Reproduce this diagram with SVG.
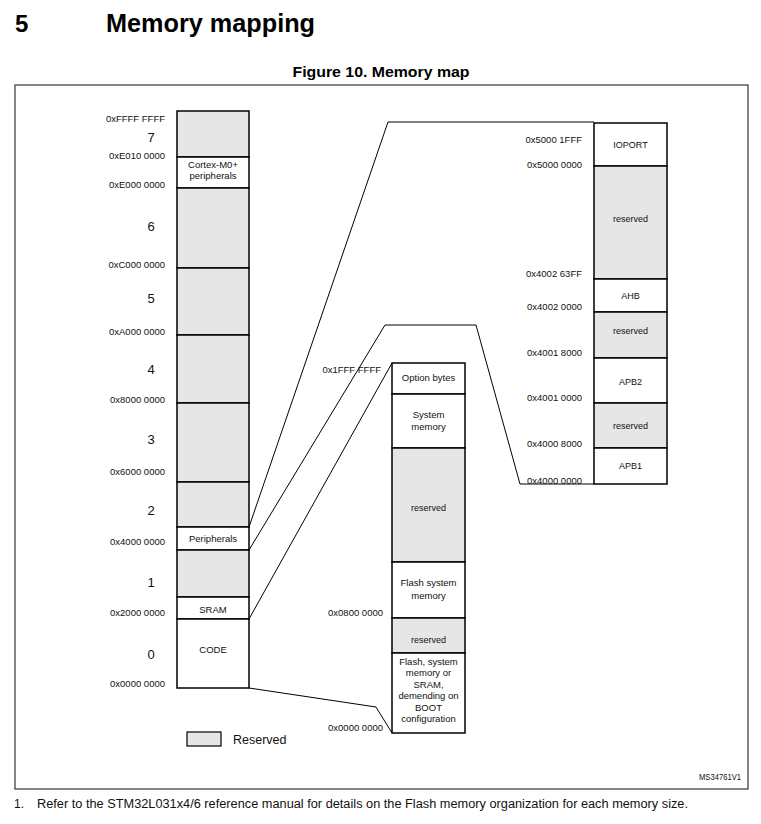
<svg xmlns="http://www.w3.org/2000/svg" width="761" height="824" viewBox="0 0 761 824">
<style>
text{font-family:"Liberation Sans",Arial,sans-serif;fill:#111}
.cell{stroke:#000;stroke-width:1.5;fill:#fff}
.res{stroke:#000;stroke-width:1.5;fill:#e6e6e6}
.lbl{font-size:9.5px;text-anchor:middle}
.rl{font-size:9px;text-anchor:middle}
.addr{font-size:9.5px;text-anchor:end}
.dig{font-size:13px;text-anchor:middle}
.conn{fill:none;stroke:#000;stroke-width:1}
</style>
<rect width="761" height="824" fill="#fff"/>
<g id="heading">
<text x="15" y="32" style="font-size:24px;font-weight:bold;fill:#000">5</text>
<text x="106" y="32" style="font-size:25px;font-weight:bold;fill:#000" textLength="209" lengthAdjust="spacingAndGlyphs">Memory mapping</text>
<text x="381" y="77" style="font-size:15px;font-weight:bold;fill:#000;text-anchor:middle" textLength="177" lengthAdjust="spacingAndGlyphs">Figure 10. Memory map</text>
</g>
<rect id="frame" x="15" y="85" width="733" height="704" fill="none" stroke="#444" stroke-width="1.3"/>
<g id="connectors">
<polyline class="conn" points="249,527 388,122 594,122"/>
<polyline class="conn" points="249,550 385,325 476,325 520,484 594,484"/>
<polyline class="conn" points="249,619 392,363"/>
<polyline class="conn" points="249,688 376,707 392,733"/>
</g>
<g id="left-column">
<g id="l-7"><rect class="res" x="177" y="111" width="72" height="46"/></g>
<g id="l-cortex"><rect class="cell" x="177" y="157" width="72" height="31"/>
<text class="lbl" x="213" y="167.7">Cortex-M0+</text><text class="lbl" x="213" y="179.4">peripherals</text></g>
<g id="l-6"><rect class="res" x="177" y="188" width="72" height="80"/></g>
<g id="l-5"><rect class="res" x="177" y="268" width="72" height="67"/></g>
<g id="l-4"><rect class="res" x="177" y="335" width="72" height="68"/></g>
<g id="l-3"><rect class="res" x="177" y="403" width="72" height="79"/></g>
<g id="l-2"><rect class="res" x="177" y="482" width="72" height="45"/></g>
<g id="l-periph"><rect class="cell" x="177" y="527" width="72" height="23"/>
<text class="lbl" x="213" y="542.4">Peripherals</text></g>
<g id="l-1"><rect class="res" x="177" y="550" width="72" height="47"/></g>
<g id="l-sram"><rect class="cell" x="177" y="597" width="72" height="22"/>
<text class="lbl" x="213" y="612.7">SRAM</text></g>
<g id="l-code"><rect class="cell" x="177" y="619" width="72" height="69"/>
<text class="lbl" x="213" y="653.4">CODE</text></g>
<g id="left-labels">
<text class="addr" x="165" y="121.7">0xFFFF FFFF</text>
<text class="dig" x="151" y="142.4">7</text>
<text class="addr" x="165" y="159.1">0xE010 0000</text>
<text class="addr" x="165" y="187.7">0xE000 0000</text>
<text class="dig" x="151" y="231.4">6</text>
<text class="addr" x="165" y="267.7">0xC000 0000</text>
<text class="dig" x="151" y="302.7">5</text>
<text class="addr" x="165" y="335.1">0xA000 0000</text>
<text class="dig" x="151" y="374.4">4</text>
<text class="addr" x="165" y="402.7">0x8000 0000</text>
<text class="dig" x="151" y="444">3</text>
<text class="addr" x="165" y="474.7">0x6000 0000</text>
<text class="dig" x="151" y="515.4">2</text>
<text class="addr" x="165" y="545.1">0x4000 0000</text>
<text class="dig" x="151" y="587.4">1</text>
<text class="addr" x="165" y="616.1">0x2000 0000</text>
<text class="dig" x="151" y="659">0</text>
<text class="addr" x="165" y="687.4">0x0000 0000</text>
</g>
</g>
<g id="middle-column">
<g id="m-option"><rect class="cell" x="392" y="363" width="73" height="31"/>
<text class="lbl" x="428.5" y="381.1">Option bytes</text></g>
<g id="m-system"><rect class="cell" x="392" y="394" width="73" height="54"/>
<text class="lbl" x="428.5" y="417.7">System</text><text class="lbl" x="428.5" y="430.4">memory</text></g>
<g id="m-res1"><rect class="res" x="392" y="448" width="73" height="114"/>
<text class="rl" x="428.5" y="510.5">reserved</text></g>
<g id="m-flashsys"><rect class="cell" x="392" y="562" width="73" height="56"/>
<text class="lbl" x="428.5" y="585.7">Flash system</text><text class="lbl" x="428.5" y="599.1">memory</text></g>
<g id="m-res2"><rect class="res" x="392" y="618" width="73" height="35"/>
<text class="rl" x="428.5" y="642.5">reserved</text></g>
<g id="m-boot"><rect class="cell" x="392" y="653" width="73" height="80"/>
<text class="lbl" x="428.5" y="664.9">Flash, system</text>
<text class="lbl" x="428.5" y="676.4">memory or</text>
<text class="lbl" x="428.5" y="687.9">SRAM,</text>
<text class="lbl" x="428.5" y="699.4">demending on</text>
<text class="lbl" x="428.5" y="710.9">BOOT</text>
<text class="lbl" x="428.5" y="722.4">configuration</text></g>
<g id="middle-labels">
<text class="addr" x="381" y="373.4">0x1FFF FFFF</text>
<text class="addr" x="383" y="616.1">0x0800 0000</text>
<text class="addr" x="383" y="731.4">0x0000 0000</text>
</g>
</g>
<g id="right-column">
<g id="r-ioport"><rect class="cell" x="594" y="123" width="73" height="43"/>
<text class="rl" x="630.5" y="148.2">IOPORT</text></g>
<g id="r-res1"><rect class="res" x="594" y="166" width="73" height="113"/>
<text class="rl" x="630.5" y="221.5">reserved</text></g>
<g id="r-ahb"><rect class="cell" x="594" y="279" width="73" height="33"/>
<text class="rl" x="630.5" y="299.2">AHB</text></g>
<g id="r-res2"><rect class="res" x="594" y="312" width="73" height="46"/>
<text class="rl" x="630.5" y="333.9">reserved</text></g>
<g id="r-apb2"><rect class="cell" x="594" y="358" width="73" height="45"/>
<text class="rl" x="630.5" y="384.9">APB2</text></g>
<g id="r-res3"><rect class="res" x="594" y="403" width="73" height="45"/>
<text class="rl" x="630.5" y="429.2">reserved</text></g>
<g id="r-apb1"><rect class="cell" x="594" y="448" width="73" height="36"/>
<text class="rl" x="630.5" y="468.9">APB1</text></g>
<g id="right-labels">
<text class="addr" x="582" y="143.4">0x5000 1FFF</text>
<text class="addr" x="582" y="168.4">0x5000 0000</text>
<text class="addr" x="582" y="277.4">0x4002 63FF</text>
<text class="addr" x="582" y="310.4">0x4002 0000</text>
<text class="addr" x="582" y="356.1">0x4001 8000</text>
<text class="addr" x="582" y="401.1">0x4001 0000</text>
<text class="addr" x="582" y="446.7">0x4000 8000</text>
<text class="addr" x="582" y="484">0x4000 0000</text>
</g>
</g>
<g id="legend">
<rect class="res" x="187" y="732" width="34" height="14" style="stroke-width:1.2"/>
<text x="233" y="743.5" style="font-size:12.5px">Reserved</text>
</g>
<text x="741" y="779.5" style="font-size:9px;text-anchor:end" textLength="42" lengthAdjust="spacingAndGlyphs">MS34761V1</text>
<g id="footnote">
<text x="14" y="807.5" style="font-size:12px">1.</text>
<text x="37" y="807.5" style="font-size:12px" textLength="651" lengthAdjust="spacingAndGlyphs">Refer to the STM32L031x4/6 reference manual for details on the Flash memory organization for each memory size.</text>
</g>
</svg>
